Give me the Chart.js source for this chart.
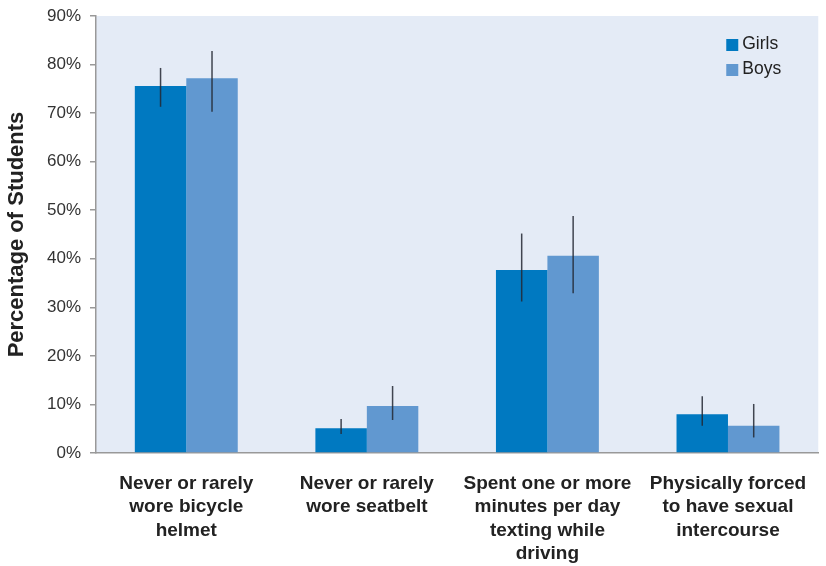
<!DOCTYPE html>
<html>
<head>
<meta charset="utf-8">
<style>
  body { margin: 0; background: #fff; }
  #riskChart { display: block; }
</style>
</head>
<body>
<canvas id="riskChart" width="826" height="566"></canvas>

<script src="https://cdn.jsdelivr.net/npm/chart.js"></script>
<script>
    // data
    const categories = [
        ["Never or rarely", "wore bicycle", "helmet"],
        ["Never or rarely", "wore seatbelt"],
        ["Spent one or more", "minutes per day", "texting while", "driving"],
        ["Physically forced", "to have sexual", "intercourse"]
    ];
    const seriesNames = ["Girls", "Boys"];
    const girls = [75.6, 5.1, 37.7, 8.0];
    const girlsLow = [71.3, 3.9, 31.2, 5.6];
    const girlsHigh = [79.3, 7.0, 45.2, 11.7];
    const boys = [77.2, 9.7, 40.6, 5.6];
    const boysLow = [70.3, 6.8, 32.9, 3.2];
    const boysHigh = [82.8, 13.8, 48.8, 10.1];
    const yTicks = [0, 10, 20, 30, 40, 50, 60, 70, 80, 90];

    const errorRanges = [
        { low: girlsLow, high: girlsHigh },
        { low: boysLow, high: boysHigh }
    ];

    Chart.defaults.font.family = "'Liberation Sans', Arial, sans-serif";
    Chart.defaults.color = "#222";

    // light blue plot background
    const plotBackground = {
        id: "plotBackground",
        beforeDraw(chart) {
            const a = chart.chartArea;
            const ctx = chart.ctx;
            ctx.save();
            ctx.fillStyle = "#e4ebf6";
            ctx.fillRect(a.left, a.top, a.right - a.left, a.bottom - a.top);
            ctx.restore();
        }
    };

    // vertical error lines, no caps
    const errorBars = {
        id: "errorBars",
        afterDatasetsDraw(chart) {
            const ctx = chart.ctx;
            const y = chart.scales.y;
            ctx.save();
            ctx.strokeStyle = "rgba(35, 40, 50, 0.85)";
            ctx.lineWidth = 1.5;
            errorRanges.forEach((r, di) => {
                chart.getDatasetMeta(di).data.forEach((bar, i) => {
                    ctx.beginPath();
                    ctx.moveTo(bar.x, y.getPixelForValue(r.low[i]));
                    ctx.lineTo(bar.x, y.getPixelForValue(r.high[i]));
                    ctx.stroke();
                });
            });
            ctx.restore();
        }
    };

    // legend inside the plot, top right
    const innerLegend = {
        id: "innerLegend",
        afterDraw(chart) {
            const ctx = chart.ctx;
            const a = chart.chartArea;
            ctx.save();
            ctx.font = "17.5px 'Liberation Sans', Arial, sans-serif";
            ctx.textBaseline = "alphabetic";
            chart.data.datasets.forEach((ds, i) => {
                const bx = a.right - 92;
                const by = a.top + 23 + i * 25;
                ctx.fillStyle = ds.backgroundColor;
                ctx.fillRect(bx, by, 12, 12);
                ctx.fillStyle = "#222";
                ctx.fillText(ds.label, bx + 16, by + 10);
            });
            ctx.restore();
        }
    };

    new Chart(document.getElementById("riskChart"), {
        type: "bar",
        data: {
            labels: categories,
            datasets: [
                {
                    label: seriesNames[0],
                    data: girls,
                    backgroundColor: "#0079c1",
                    barPercentage: 1,
                    categoryPercentage: 0.57
                },
                {
                    label: seriesNames[1],
                    data: boys,
                    backgroundColor: "#6198d0",
                    barPercentage: 1,
                    categoryPercentage: 0.57
                }
            ]
        },
        options: {
            responsive: false,
            animation: false,
            layout: { padding: { left: 0, right: 7, top: 16, bottom: 0 } },
            plugins: {
                legend: { display: false },
                tooltip: { enabled: false }
            },
            scales: {
                x: {
                    grid: { drawOnChartArea: false, drawTicks: false },
                    border: { color: "#999", width: 1.5 },
                    ticks: {
                        padding: 19,
                        maxRotation: 0,
                        autoSkip: false,
                        color: "#222",
                        font: { size: 19, weight: "bold", lineHeight: "23.5px" }
                    },
                    afterFit(scale) { scale.height = 113; }
                },
                y: {
                    min: 0,
                    max: 90,
                    afterBuildTicks(scale) {
                        scale.ticks = yTicks.map(v => ({ value: v }));
                    },
                    grid: { drawOnChartArea: false, drawTicks: true, tickLength: 6, color: "#999", lineWidth: 1.5 },
                    border: { color: "#999", width: 1.5 },
                    ticks: {
                        padding: 9,
                        color: "#333",
                        font: { size: 17 },
                        callback: v => v + "%"
                    },
                    title: {
                        display: true,
                        text: "Percentage of Students",
                        color: "#222",
                        font: { size: 22, weight: "bold" },
                        padding: { top: 4, bottom: 0 }
                    },
                    afterFit(scale) {
                        scale.width = 96;
                        scale.paddingTop = 0;
                    }
                }
            }
        },
        plugins: [plotBackground, errorBars, innerLegend]
    });
</script>
</body>
</html>
